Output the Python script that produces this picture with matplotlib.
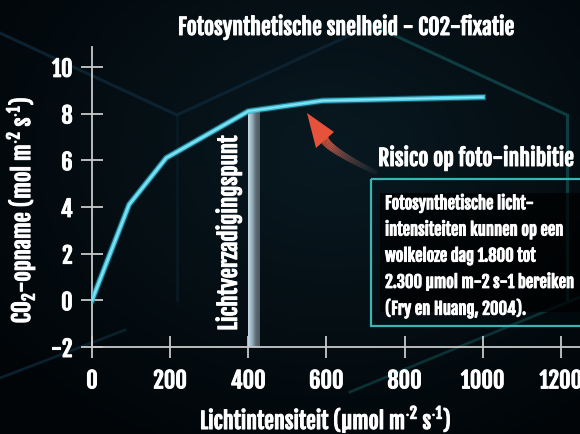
import numpy as np
import matplotlib
matplotlib.use("Agg")
import matplotlib.pyplot as plt
import matplotlib.patheffects as pe
from matplotlib.colors import LinearSegmentedColormap
from matplotlib.patches import Rectangle, Polygon
from matplotlib.collections import LineCollection

# ---- data ----
light_intensity = [0, 95, 190, 400, 590, 1000]
co2_uptake = [0, 4.1, 6.1, 8.1, 8.55, 8.7]
x_ticks = [0, 200, 400, 600, 800, 1000, 1200]
y_ticks = [-2, 0, 2, 4, 6, 8, 10]
saturation_point = 400
title = "Fotosynthetische snelheid - CO2-fixatie"
xlabel = r"Lichtintensiteit (µmol m$^{\cdot 2}$ s$^{\cdot 1}$)"
ylabel = r"CO$_2$-opname (mol m$^{\cdot 2}$ s$^{\cdot 1}$)"
sat_label = "Lichtverzadigingspunt"
risk_label = "Risico op foto-inhibitie"
note_lines = ["Fotosynthetische licht-",
              "intensiteiten kunnen op een",
              "wolkeloze dag 1.800 tot",
              "2.300 µmol m-2 s-1 bereiken",
              "(Fry en Huang, 2004)."]

MAIN = "Fjalla One"
plt.rcParams['font.family'] = [MAIN, "DejaVu Sans"]
plt.rcParams['mathtext.fontset'] = 'custom'
plt.rcParams['mathtext.rm'] = MAIN
plt.rcParams['mathtext.it'] = MAIN
plt.rcParams['mathtext.bf'] = MAIN
BOLD = [pe.withStroke(linewidth=0.7, foreground='white')]

W, H = 580, 434
fig = plt.figure(figsize=(W / 100, H / 100), dpi=100)

# ---- background ----
bg = fig.add_axes([0, 0, 1, 1], zorder=0)
bg.set_xlim(0, W); bg.set_ylim(H, 0); bg.axis('off')
yy, xx = np.mgrid[0:H:2, 0:W:2]
d = np.sqrt(((xx - 330) / 420.0) ** 2 + ((yy - 150) / 330.0) ** 2)
base0 = np.array([0x09, 0x19, 0x21]) / 255.0
base1 = np.array([0x01, 0x05, 0x08]) / 255.0
t = np.clip(d, 0, 1)[..., None]
img = base0 * (1 - t) + base1 * t
bg.imshow(img, extent=[0, W, H, 0], aspect='auto', interpolation='bilinear')
hex_dark = '#0c2230'
hex_teal = '#0d3d41'
bg.plot([0, 177], [33, 115], color=hex_dark, lw=2.2)
bg.plot([177, 177], [115, 300], color='#091922', lw=2.0)
bg.plot([177, 372], [115, 25], color=hex_dark, lw=2.2)
bg.plot([372, 567], [25, 115], color=hex_teal, lw=2.2)
bg.plot([567, 567], [115, 300], color=hex_teal, lw=2.2)
bg.plot([350, 580], [392, 297], color='#0b3135', lw=2.0)
bg.plot([0, 125], [378, 330], color='#0a202c', lw=2.0)

# ---- main axes ----
x0 = 92; xscale = 0.3908
ax = fig.add_axes([x0 / W, (H - 347) / H, (W - x0) / W, 300 / H], zorder=1)
ax.set_facecolor('none')
for s in ['top', 'right']:
    ax.spines[s].set_visible(False)
for s in ['left', 'bottom']:
    ax.spines[s].set_color('#c9c9c9')
    ax.spines[s].set_linewidth(1.3)

ax.plot(light_intensity, co2_uptake, color='#2aa6c4', lw=4.6, alpha=0.45,
        solid_joinstyle='miter', zorder=3)
ax.plot(light_intensity, co2_uptake, color='#4ccbe3', lw=3.0,
        solid_joinstyle='miter', zorder=4)
ax.plot(light_intensity, co2_uptake, color='#8fe6f4', lw=1.0,
        solid_joinstyle='miter', zorder=5)

bar_top = co2_uptake[light_intensity.index(saturation_point)]
cmap = LinearSegmentedColormap.from_list('bar', ['#c3dae6', '#98afbc', '#5e6a74', '#4e5962'])
grad = np.linspace(0, 1, 64)[None, :]
ax.imshow(grad, extent=[saturation_point, saturation_point + 30, -2, bar_top],
          aspect='auto', cmap=cmap, zorder=2)

ax.text(349, -1.3, sat_label, rotation=90, ha='center', va='bottom',
        color='white', fontsize=16.5, path_effects=BOLD)

ax.set_xlim(0, (W - x0) / xscale)
ax.set_ylim(-2, 10.85)
ax.set_xticks(x_ticks)
ax.set_yticks(y_ticks)
ax.set_xticklabels([str(v) for v in x_ticks])
ax.set_yticklabels([str(v) for v in y_ticks])
ax.tick_params(axis='both', direction='inout', length=15.8, width=1.3,
               color='#c9c9c9', labelcolor='white', labelsize=16)
ax.tick_params(axis='x', pad=7.5)
ax.tick_params(axis='y', pad=6.0)
for lab in ax.get_xticklabels() + ax.get_yticklabels():
    lab.set_path_effects(BOLD)

# ---- overlay ----
ov = fig.add_axes([0, 0, 1, 1], zorder=3)
ov.set_xlim(0, W); ov.set_ylim(H, 0); ov.axis('off'); ov.patch.set_alpha(0)

# curved gradient arrow
P0 = np.array([377.0, 173.0]); C = np.array([329.0, 150.0]); P2 = np.array([324.0, 139.0])
ts = np.linspace(0, 1, 40)
pts = ((1 - ts) ** 2)[:, None] * P0 + (2 * (1 - ts) * ts)[:, None] * C + (ts ** 2)[:, None] * P2
segs = [[pts[i], pts[i + 1]] for i in range(len(pts) - 1)]
c_tail = np.array([0.35, 0.35, 0.37]); c_head = np.array([0.90, 0.33, 0.23])
cols = []
widths = []
for i in range(len(segs)):
    f = i / (len(segs) - 1)
    c = c_tail * (1 - f) + c_head * f
    cols.append((c[0], c[1], c[2], 0.15 + 0.85 * min(1, f * 1.4)))
    widths.append((4.5 + 4.5 * f) * 0.72)
ov.add_collection(LineCollection(segs, colors=cols, linewidths=widths, capstyle='butt'))
ov.add_patch(Polygon([[307, 113], [334, 132], [316, 148]], closed=True,
                     facecolor='#e6533a', edgecolor='none'))

# note box
ov.add_patch(Rectangle((380, 193), 210, 119, facecolor='black', alpha=0.7, edgecolor='none'))
ov.add_patch(Rectangle((371, 179), 240, 147, fill=False, edgecolor='#39b6b3', lw=1.6))
for i, line in enumerate(note_lines):
    ov.text(385, 203 + i * 26.3, line, ha='left', va='center', color='white',
            fontsize=11.9, path_effects=BOLD)

ov.text(378, 158, risk_label, ha='left', va='center', color='white',
        fontsize=15.8, path_effects=BOLD)

# titles / labels
fig.text(347 / W, 1 - 27 / H, title, ha='center', va='center', color='white',
         fontsize=15.8, path_effects=BOLD)
fig.text(326 / W, 1 - 419 / H, xlabel, ha='center', va='center', color='white',
         fontsize=15.8, path_effects=BOLD)
fig.text(20 / W, 1 - 210 / H, ylabel, ha='center', va='center', rotation=90,
         color='white', fontsize=16.3, path_effects=BOLD)

fig.savefig('out.png', dpi=100)
